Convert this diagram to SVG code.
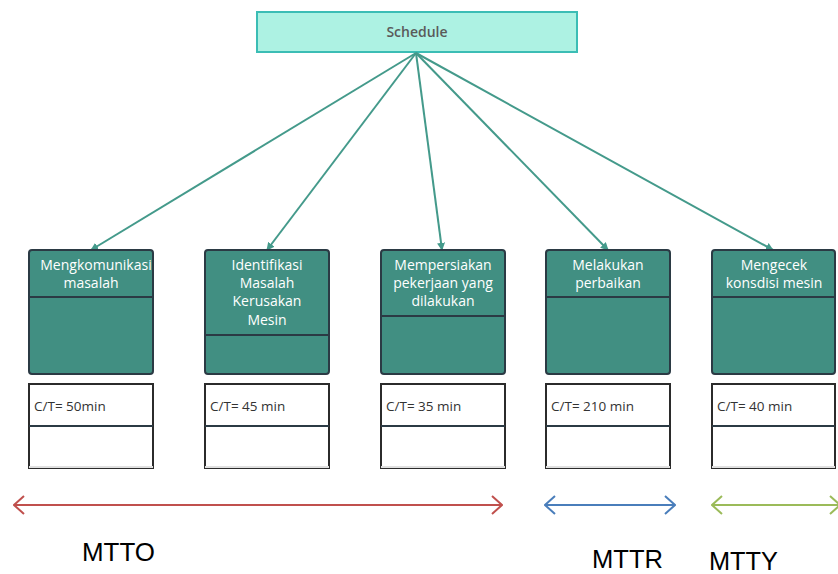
<svg xmlns="http://www.w3.org/2000/svg" width="838" height="574" viewBox="0 0 838 574">
<style>
.hdr{fill:#418f82;stroke:#2b3a44;stroke-width:2}
.div{stroke:#2b3a44;stroke-width:2}
.nt{font-family:"Open Sans","Noto Sans",sans-serif;font-size:14px;fill:#ffffff;text-anchor:middle}
.ct{font-family:"Open Sans","Noto Sans",sans-serif;font-size:13.5px;fill:#333333}
.lb{fill:#ffffff;stroke:#2b2b2b;stroke-width:2}
.big{font-family:"Liberation Sans",Arial,sans-serif;font-size:25.5px;fill:#000000}
.conn{stroke:#449a8b;stroke-width:2;fill:none}
</style>
<defs>
<marker id="tri" viewBox="0 0 10 10" refX="9" refY="5" markerWidth="8" markerHeight="8" markerUnits="userSpaceOnUse" orient="auto">
<path d="M0,0 L10,5 L0,10 z" fill="#449a8b"/>
</marker>
<marker id="chevR" viewBox="0 0 12 20" refX="11" refY="10" markerWidth="12" markerHeight="20" markerUnits="userSpaceOnUse" orient="auto-start-reverse">
<path d="M1,1 L11,10 L1,19" fill="none" stroke="context-stroke" stroke-width="2"/>
</marker>
</defs>
<g id="schedule">
<rect x="257" y="12" width="320" height="40" fill="#adf2e3" stroke="#3bbdb5" stroke-width="2"/>
<text x="417" y="37" font-family="'Open Sans','Noto Sans',sans-serif" font-size="14" font-weight="600" fill="#5a5a5a" text-anchor="middle">Schedule</text>
</g>
<g id="connectors">
<line class="conn" x1="416" y1="53" x2="91" y2="250" marker-end="url(#tri)"/>
<line class="conn" x1="416" y1="53" x2="267" y2="250" marker-end="url(#tri)"/>
<line class="conn" x1="416" y1="53" x2="442" y2="250" marker-end="url(#tri)"/>
<line class="conn" x1="416" y1="53" x2="608" y2="250" marker-end="url(#tri)"/>
<line class="conn" x1="416" y1="53" x2="773" y2="250" marker-end="url(#tri)"/>
<line x1="14" y1="505" x2="502" y2="505" stroke="#c0504d" stroke-width="2" marker-start="url(#chevR)" marker-end="url(#chevR)"/>
<line x1="545" y1="505" x2="675" y2="505" stroke="#4a7ebb" stroke-width="2" marker-start="url(#chevR)" marker-end="url(#chevR)"/>
<line x1="712" y1="505" x2="840" y2="505" stroke="#9bbb59" stroke-width="2" marker-start="url(#chevR)" marker-end="url(#chevR)"/>
</g>
<g id="n1">
<rect class="hdr" x="29" y="250" width="124" height="124" rx="3"/>
<line class="div" x1="29" y1="297" x2="153" y2="297"/>
<text class="nt" x="96" y="270">Mengkomunikasi</text>
<text class="nt" x="91" y="288">masalah</text>
<rect class="lb" x="29" y="384" width="124" height="84"/>
<line class="div" x1="29" y1="426" x2="153" y2="426"/>
<line x1="29" y1="467" x2="153" y2="467" stroke="#e0e0e0" stroke-width="2"/>
<text class="ct" x="34" y="411">C/T= 50min</text>
</g>
<g id="n2">
<rect class="hdr" x="205" y="250" width="124" height="124" rx="3"/>
<line class="div" x1="205" y1="335" x2="329" y2="335"/>
<text class="nt" x="267" y="270">Identifikasi</text>
<text class="nt" x="267" y="288">Masalah</text>
<text class="nt" x="267" y="306">Kerusakan</text>
<text class="nt" x="267" y="325">Mesin</text>
<rect class="lb" x="205" y="384" width="124" height="84"/>
<line class="div" x1="205" y1="426" x2="329" y2="426"/>
<line x1="205" y1="467" x2="329" y2="467" stroke="#e0e0e0" stroke-width="2"/>
<text class="ct" x="210" y="411">C/T= 45 min</text>
</g>
<g id="n3">
<rect class="hdr" x="381" y="250" width="124" height="124" rx="3"/>
<line class="div" x1="381" y1="316" x2="505" y2="316"/>
<text class="nt" x="443" y="270">Mempersiakan</text>
<text class="nt" x="443" y="288">pekerjaan yang</text>
<text class="nt" x="443" y="306">dilakukan</text>
<rect class="lb" x="381" y="384" width="124" height="84"/>
<line class="div" x1="381" y1="426" x2="505" y2="426"/>
<line x1="381" y1="467" x2="505" y2="467" stroke="#e0e0e0" stroke-width="2"/>
<text class="ct" x="386" y="411">C/T= 35 min</text>
</g>
<g id="n4">
<rect class="hdr" x="546" y="250" width="124" height="124" rx="3"/>
<line class="div" x1="546" y1="297" x2="670" y2="297"/>
<text class="nt" x="608" y="270">Melakukan</text>
<text class="nt" x="608" y="288">perbaikan</text>
<rect class="lb" x="546" y="384" width="124" height="84"/>
<line class="div" x1="546" y1="426" x2="670" y2="426"/>
<line x1="546" y1="467" x2="670" y2="467" stroke="#e0e0e0" stroke-width="2"/>
<text class="ct" x="551" y="411">C/T= 210 min</text>
</g>
<g id="n5">
<rect class="hdr" x="712" y="250" width="123" height="124" rx="3"/>
<line class="div" x1="712" y1="297" x2="835" y2="297"/>
<text class="nt" x="774" y="270">Mengecek</text>
<text class="nt" x="774" y="288">konsdisi mesin</text>
<rect class="lb" x="712" y="384" width="123" height="84"/>
<line class="div" x1="712" y1="426" x2="835" y2="426"/>
<line x1="712" y1="467" x2="835" y2="467" stroke="#e0e0e0" stroke-width="2"/>
<text class="ct" x="717" y="411">C/T= 40 min</text>
</g>
<g id="labels">
<text class="big" x="82" y="561" textLength="73" lengthAdjust="spacingAndGlyphs">MTTO</text>
<text class="big" x="592" y="568" textLength="71" lengthAdjust="spacingAndGlyphs">MTTR</text>
<text class="big" x="709" y="570" textLength="69" lengthAdjust="spacingAndGlyphs">MTTY</text>
</g>
</svg>
